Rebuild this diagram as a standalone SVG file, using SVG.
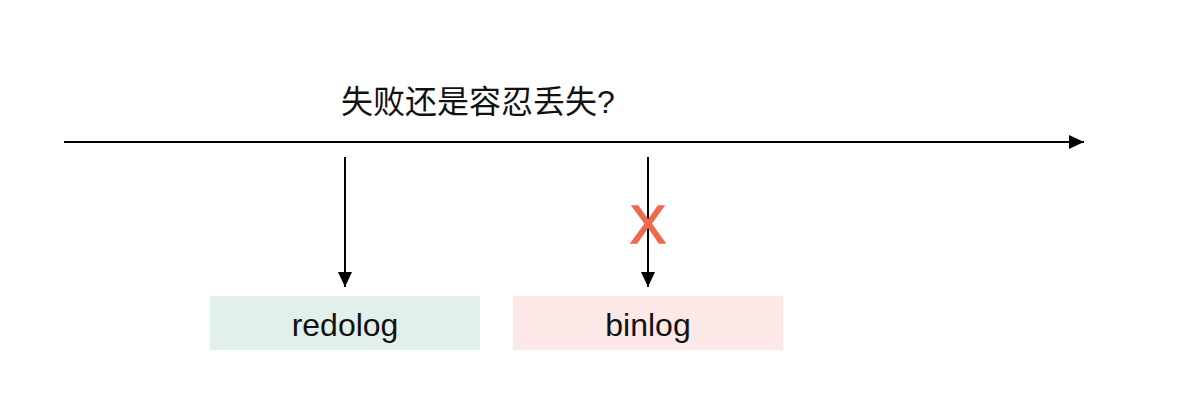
<svg xmlns="http://www.w3.org/2000/svg" width="1178" height="406" viewBox="0 0 1178 406">
<style>
.ln{stroke:#000;stroke-width:2;fill:none}
.lbl{font-family:"Liberation Sans",Arial,sans-serif;font-size:32px;fill:#111;text-anchor:middle}
.title{font-family:"Liberation Sans","Noto Sans CJK SC",sans-serif;font-size:32px;fill:#111;text-anchor:middle}
</style>
<defs>
<marker id="ah" viewBox="0 0 15 14" refX="15" refY="7" markerWidth="15" markerHeight="14" markerUnits="userSpaceOnUse" orient="auto">
<path d="M0,0 L15,7 L0,14 Z" fill="#000"/>
</marker>
</defs>
<rect width="1178" height="406" fill="#fff"/>
<g id="title"><text class="title" x="478" y="113">失败还是容忍丢失?</text></g>
<g id="connectors">
<line class="ln" x1="64" y1="142" x2="1084" y2="142" marker-end="url(#ah)"/>
<line class="ln" x1="345" y1="157" x2="345" y2="287" marker-end="url(#ah)"/>
<line class="ln" x1="648" y1="157" x2="648" y2="287" marker-end="url(#ah)"/>
</g>
<g id="redolog">
<rect x="210" y="296" width="270" height="54" fill="#e1f0eb"/>
<text class="lbl" x="345" y="336">redolog</text>
</g>
<g id="binlog">
<rect x="513" y="296" width="270" height="54" fill="#fce8e6"/>
<text class="lbl" x="648" y="336">binlog</text>
</g>
<g id="cross">
<text x="648" y="243" font-family="Liberation Sans,Arial,sans-serif" font-size="54" fill="#ee6a4f" stroke="#ee6a4f" stroke-width="1.5" text-anchor="middle">X</text>
</g>
</svg>
